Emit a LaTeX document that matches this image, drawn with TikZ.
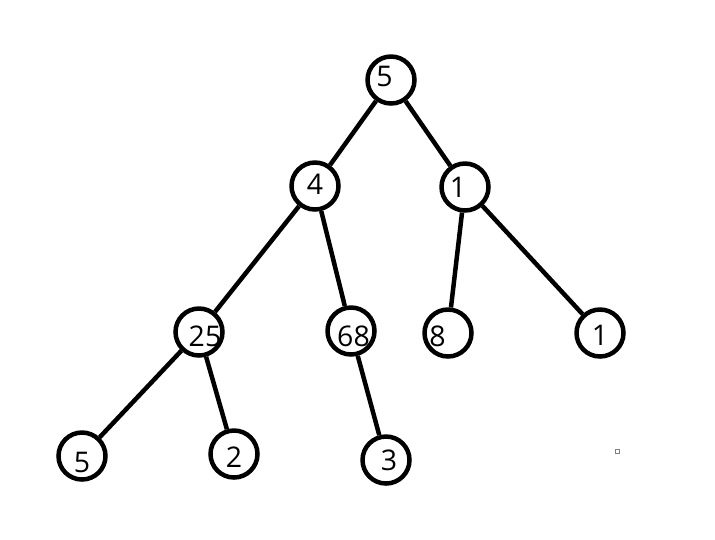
\documentclass[tikz,border=0pt]{standalone}
\usepackage{fontspec}
\setmainfont{Open Sans}

\begin{document}
\begin{tikzpicture}[x=0.02cm, y=-0.02cm,
    vtx/.style={circle, draw, line width=0.09cm, inner sep=0pt, minimum size=0.94cm},
    num/.style={font=\fontsize{16.2}{18}\selectfont, inner sep=0pt},
    edge/.style={line width=0.09cm}]
  \useasboundingbox (0,0) rectangle (715,539);
  \node[vtx, label={[num, xshift=-0.13cm, yshift=0.08cm]center:5}] (r) at (391,80) {};
  \node[vtx, label={[num, yshift=0.04cm]center:4}] (a) at (315,186) {};
  \node[vtx, label={[num, xshift=-0.14cm]center:1}] (b) at (465,187) {};
  \node[vtx, label={[num, xshift=0.12cm, yshift=-0.09cm]center:25}] (aa) at (199,332) {};
  \node[vtx, label={[num, xshift=0.05cm, yshift=-0.10cm]center:68}] (ab) at (351,331) {};
  \node[vtx, label={[num, xshift=-0.21cm, yshift=-0.06cm]center:8}] (ba) at (448,333) {};
  \node[vtx, label={[num, yshift=-0.04cm]center:1}] (bb) at (600,333) {};
  \node[vtx, label={[num, yshift=-0.12cm]center:5}] (aaa) at (82,456) {};
  \node[vtx, label={[num, yshift=-0.06cm]center:2}] (aab) at (234,454) {};
  \node[vtx, label={[num, xshift=0.06cm]center:3}] (aba) at (386,460) {};
  \draw[edge] (r) -- (a);
  \draw[edge] (r) -- (b);
  \draw[edge] (a) -- (aa);
  \draw[edge] (a) -- (ab);
  \draw[edge] (b) -- (ba);
  \draw[edge] (b) -- (bb);
  \draw[edge] (aa) -- (aaa);
  \draw[edge] (aa) -- (aab);
  \draw[edge] (ab) -- (aba);
  \draw[gray, line width=0.02cm] (615,449) rectangle (619,453);
\end{tikzpicture}
\end{document}
